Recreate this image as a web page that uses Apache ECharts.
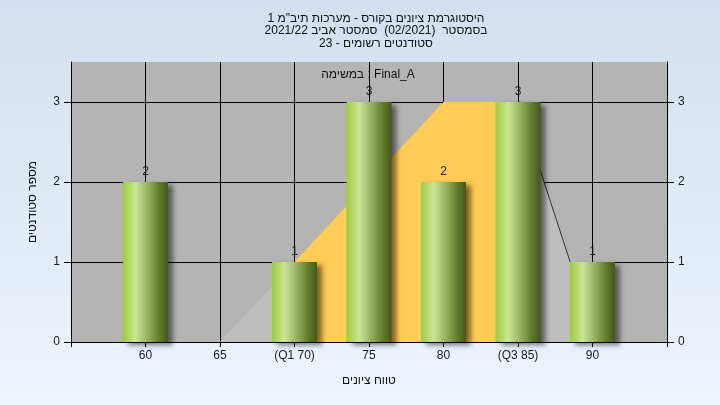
<!DOCTYPE html>
<html>
<head>
<meta charset="utf-8">
<script src="https://cdn.jsdelivr.net/npm/echarts@6/dist/echarts.min.js"></script>
<style>
html,body{margin:0;padding:0;}
#chart{width:720px;height:405px;}
</style>
</head>
<body>
<div id="chart"></div>
<script>
// ---- data ----
var categories = ['55', '60', '65', '70', '75', '80', '85', '90', '95'];
var tickLabels = ['', '60', '65', '(Q1 70)', '75', '80', '(Q3 85)', '90', ''];
var counts = [null, 2, 0, 1, 3, 2, 3, 1, null];
var yTicks = [0, 1, 2, 3];
var riseArea = [[65, 0], [70, 1]];
var iqrArea = [[70, 1], [75, 2], [80, 3], [85, 3]];
var fallArea = [[85, 3], [88.5, 1]];
var titleLines = ['היסטוגרמת ציונים בקורס - מערכות תיב"מ 1', 'בסמסטר  (02/2021)  סמסטר אביב 2021/22', 'סטודנטים רשומים - 23'];
var legendText = 'במשימה : Final_A';
var xName = 'טווח ציונים';
var yName = 'מספר סטודנטים';

var FONT = '"Liberation Sans", Arial, sans-serif';
var chart = echarts.init(document.getElementById('chart'), null, {renderer: 'canvas'});

var axisCommon = {
  type: 'value', min: 0, max: 3.5, interval: 1,
  axisLine: {show: true, lineStyle: {color: '#000', width: 1}},
  axisTick: {show: true, length: 7, lineStyle: {color: '#000'}},
  axisLabel: {color: '#1a1a1a', fontSize: 12, fontFamily: FONT, showMaxLabel: false, margin: 11}
};

var option = {
  animation: false,
  backgroundColor: {type: 'linear', x: 0, y: 0, x2: 0, y2: 1, colorStops: [{offset: 0, color: '#d3dff0'}, {offset: 1, color: '#eef4fc'}]},
  graphic: [
    {type: 'text', x: 376, y: 12, style: {text: titleLines.join('\n'), align: 'center', font: '12px ' + FONT, fill: '#111', lineHeight: 12.5}},
    {type: 'text', x: 368, y: 69, style: {text: legendText, align: 'center', font: '12px ' + FONT, fill: '#111'}}
  ],
  grid: {left: 71, right: 53, top: 62, bottom: 63, show: true, backgroundColor: '#b4b4b4', borderWidth: 0},
  xAxis: [
    {
      type: 'category', data: categories, boundaryGap: false,
      axisLine: {show: true, lineStyle: {color: '#000', width: 1}},
      axisTick: {show: true, length: 5, lineStyle: {color: '#000'}},
      axisLabel: {color: '#1a1a1a', fontSize: 12, fontFamily: FONT, margin: 8, interval: 0,
        formatter: function (v, i) { return tickLabels[i]; }},
      splitLine: {show: true, lineStyle: {color: '#000', width: 1}},
      name: xName, nameLocation: 'middle', nameGap: 33,
      nameTextStyle: {color: '#111', fontSize: 12, fontFamily: FONT}
    },
    {type: 'value', min: 55, max: 95, show: false}
  ],
  yAxis: [
    Object.assign({}, axisCommon, {
      position: 'left',
      splitLine: {show: true, showMaxLine: false, lineStyle: {color: '#000', width: 1}},
      name: yName, nameLocation: 'middle', nameRotate: 90, nameGap: 32,
      nameTextStyle: {color: '#111', fontSize: 12, fontFamily: FONT}
    }),
    Object.assign({}, axisCommon, {position: 'right', splitLine: {show: false}})
  ],
  series: [
    {type: 'line', xAxisIndex: 1, yAxisIndex: 0, data: riseArea, symbol: 'none', silent: true, z: 1,
      lineStyle: {width: 0}, areaStyle: {color: '#bebebe', opacity: 1}},
    {type: 'line', xAxisIndex: 1, yAxisIndex: 0, data: iqrArea, symbol: 'none', silent: true, z: 1,
      lineStyle: {width: 0}, areaStyle: {color: '#ffcc57', opacity: 1}},
    {type: 'line', xAxisIndex: 1, yAxisIndex: 0, data: fallArea, symbol: 'none', silent: true, z: 1,
      lineStyle: {width: 1, color: '#333'}, areaStyle: {color: '#bdbdbd', opacity: 1}},
    {type: 'bar', xAxisIndex: 0, yAxisIndex: 0, data: counts, barWidth: 45, z: 5,
      itemStyle: {
        color: {type: 'linear', x: 0, y: 0, x2: 1, y2: 0, colorStops: [
          {offset: 0, color: '#9dcc3c'},
          {offset: 0.28, color: '#cbe595'},
          {offset: 0.55, color: '#98b063'},
          {offset: 0.8, color: '#627c2d'},
          {offset: 1, color: '#435917'}
        ]},
        shadowColor: 'rgba(0,0,0,0.5)', shadowBlur: 5, shadowOffsetX: 5, shadowOffsetY: 3
      },
      label: {show: true, position: 'top', distance: 4, color: '#1a1a1a', fontSize: 12, fontFamily: FONT,
        formatter: function (p) { return p.value ? String(p.value) : ''; }}
    }
  ]
};
chart.setOption(option);
</script>
</body>
</html>
